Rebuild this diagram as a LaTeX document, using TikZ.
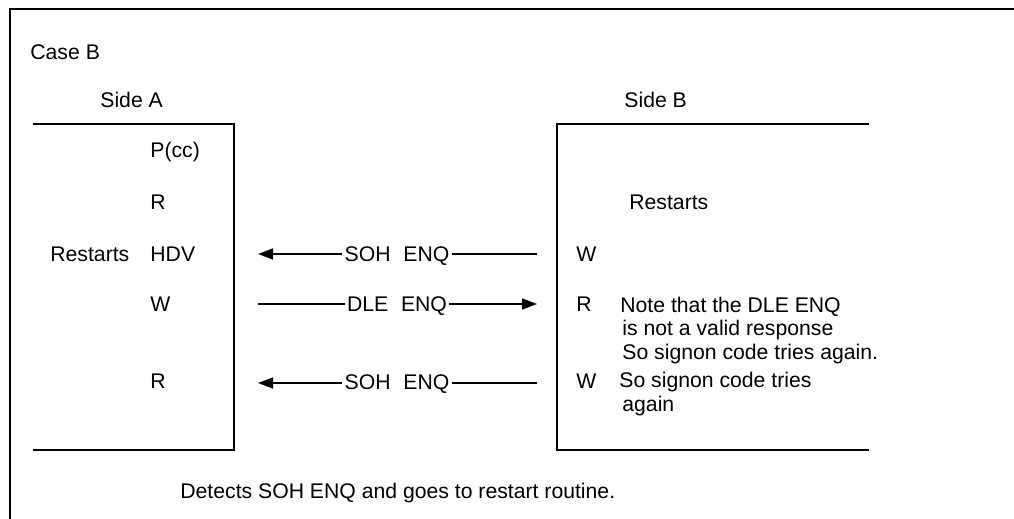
\documentclass[tikz,border=0pt]{standalone}
\usepackage{fontspec}
\setmainfont{Liberation Sans}
\usetikzlibrary{arrows.meta}

\begin{document}
\begin{tikzpicture}[x=0.5pt, y=-0.5pt,
  every node/.style={font=\fontsize{10.6}{11.75}\selectfont},
  lbl/.style={anchor=base west, inner sep=0pt, align=left},
  msg/.style={anchor=base, inner sep=1pt},
  side/.style={line width=1pt},
  sig/.style={line width=0.7pt, -{Triangle[length=7.5pt,width=5.5pt]}}]
  \useasboundingbox (0,0) rectangle (1014,519);
  \draw[line width=0.8pt] (10,519) -- (10,9) -- (1014,9);
  \draw[side] (33,124) -- (234,124) -- (234,450) -- (33,450);
  \draw[side] (869,124) -- (557,124) -- (557,450) -- (869,450);

  \node[lbl] (case) at (30,60) {Case B};
  \node[lbl] (sideA) at (100,108) {Side A};
  \node[lbl] (sideB) at (624,108) {Side B};

  \node[lbl] (pcc) at (150,158) {P(cc)};
  \node[lbl] (ra1) at (150,210) {R};
  \node[lbl] (hdv) at (150,262) {HDV};
  \node[lbl] (rstA) at (50,262) {Restarts};
  \node[lbl] (wa) at (150,312) {W};
  \node[lbl] (ra2) at (150,388) {R};

  \node[lbl] (rstB) at (629,210) {Restarts};
  \node[lbl] (wb1) at (576,262) {W};
  \node[lbl] (rb) at (576,312) {R};
  \node[lbl] (noteR) at (620,359) {Note that the DLE ENQ\\\hspace*{1pt}is not a valid response\\\hspace*{1pt}So signon code tries again.};
  \node[lbl] (wb2) at (576,388) {W};
  \node[lbl] (noteW) at (619,411) {So signon code tries\\\hspace*{1.5pt}again};

  \node[lbl] (detect) at (180,498) {Detects SOH ENQ and goes to restart routine.};

  \coordinate (a1) at (258,254); \coordinate (b1) at (537,254);
  \coordinate (a2) at (258,304); \coordinate (b2) at (537,304);
  \coordinate (a3) at (258,383); \coordinate (b3) at (537,383);
  \node[msg] (m1) at (397,262) {SOH\hspace{0.6em}ENQ};
  \node[msg] (m2) at (397,312) {DLE\hspace{0.6em}ENQ};
  \node[msg] (m3) at (397,390) {SOH\hspace{0.6em}ENQ};
  \draw[sig] (m1.west |- a1) -- (a1);
  \draw[line width=0.7pt] (m1.east |- b1) -- (b1);
  \draw[line width=0.7pt] (a2) -- (m2.west |- a2);
  \draw[sig] (m2.east |- b2) -- (b2);
  \draw[sig] (m3.west |- a3) -- (a3);
  \draw[line width=0.7pt] (m3.east |- b3) -- (b3);
\end{tikzpicture}
\end{document}
